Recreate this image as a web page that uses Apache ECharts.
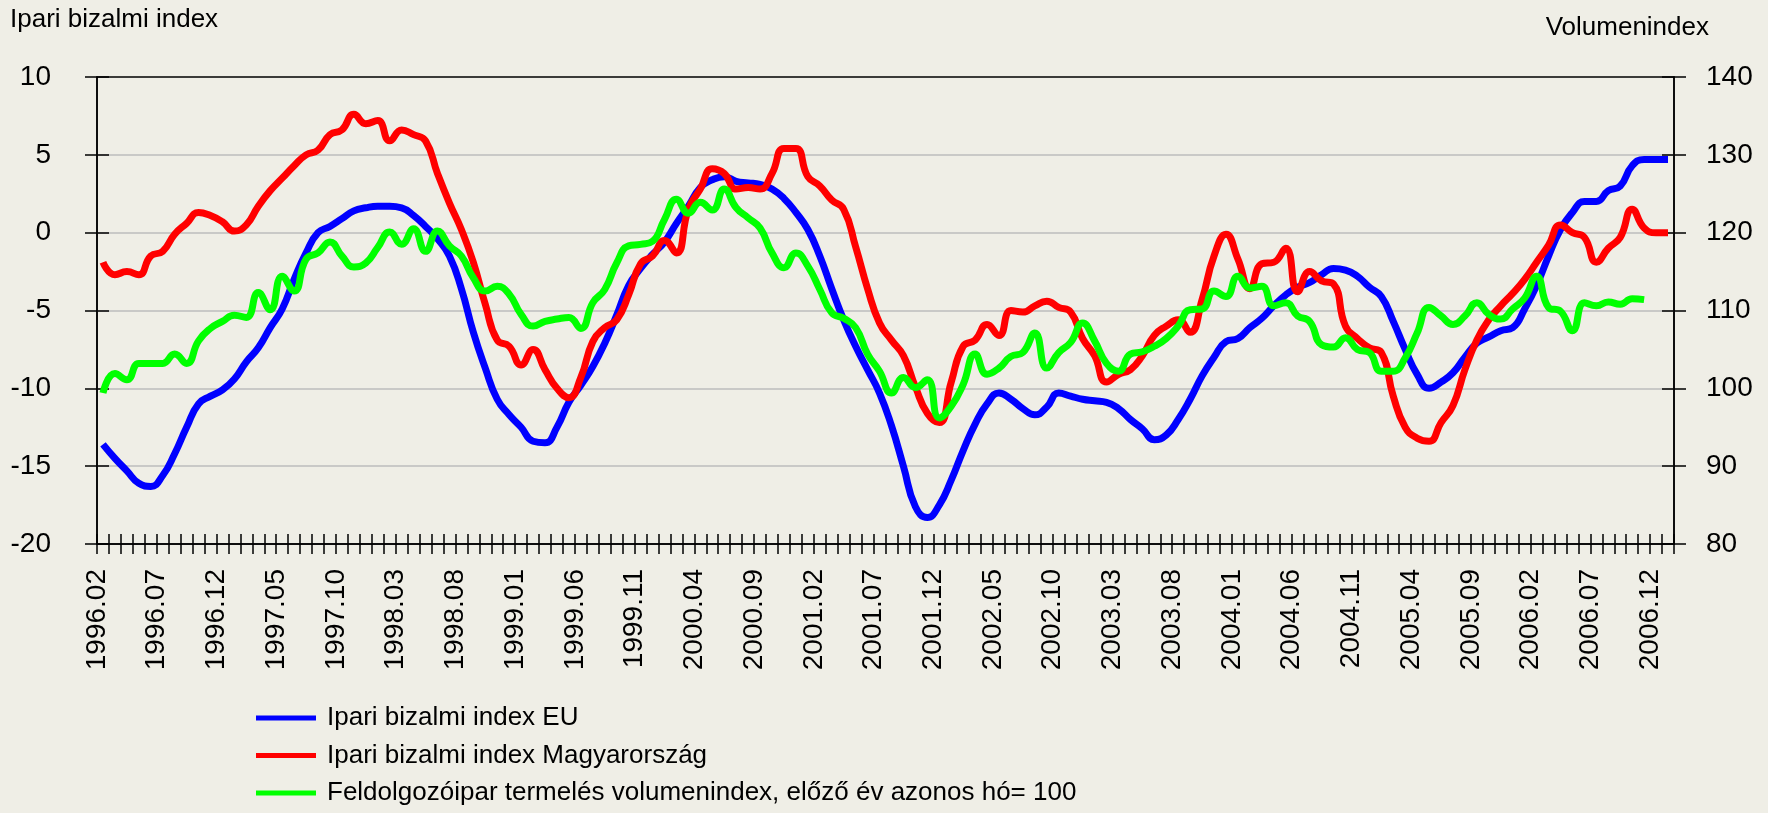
<!DOCTYPE html>
<html>
<head>
<meta charset="utf-8">
<script src="https://cdn.jsdelivr.net/npm/echarts@6/dist/echarts.min.js"></script>
<style>
  html, body { margin: 0; padding: 0; background: #efeee6; }
  #main { width: 1768px; height: 813px; }
</style>
</head>
<body>
<div id="main"></div>
<script>
// honapok: 1996.02-tol, 132 kategoria (a cimke minden 5. hatarra kerul)
const months = [];
for (let i = 0; i < 132; i++) {
  const m = i + 1;
  const y = 1996 + Math.floor(m / 12);
  const mm = (m % 12) + 1;
  months.push(y + '.' + (mm < 10 ? '0' + mm : '' + mm));
}

const leftTicks = [-20, -15, -10, -5, 0, 5, 10];
const rightTicks = [80, 90, 100, 110, 120, 130, 140];

const seriesNames = [
  'Ipari bizalmi index EU',
  'Ipari bizalmi index Magyarország',
  'Feldolgozóipar termelés volumenindex, előző év azonos hó= 100'
];

// Ipari bizalmi index EU
const euIndex = [
  -13.6, -14.5, -15.3, -16.1, -16.3, -15.6, -14.2, -12.5, -11.0, -10.5, -10.1, -9.4, -8.3, -7.4, -6.1, -4.9, -3.0, -1.3, 0.0, 0.4, 0.9, 1.4, 1.6, 1.7, 1.7, 1.6, 1.1,
  0.4, -0.4, -1.5, -3.6, -6.4, -8.7, -10.7, -11.7, -12.5, -13.4, -13.5, -12.5, -10.9, -9.8, -8.6, -7.1, -5.3, -3.4, -2.3, -1.4, -0.6, 0.6, 1.7, 2.9, 3.4, 3.6,
  3.3, 3.2, 3.1, 2.8, 2.2, 1.3, 0.2, -1.5, -3.6, -5.6, -7.3, -8.8, -10.3, -12.4, -15.0, -17.6, -18.3, -17.5, -15.9, -14.0, -12.3, -11.0, -10.3, -10.7, -11.3, -11.7, -11.2,
  -10.3, -10.5, -10.7, -10.8, -10.9, -11.3, -12.0, -12.6, -13.3, -13.0, -12.0, -10.7, -9.2, -8.0, -7.0, -6.8, -6.1, -5.5, -4.7, -4.0, -3.5, -3.2, -2.7, -2.3, -2.4, -2.8, -3.5,
  -4.1, -5.7, -7.5, -9.1, -10.0, -9.6, -9.0, -8.0, -7.1, -6.7, -6.3, -6.1, -4.9, -3.4, -1.5, 0.2, 1.3, 2.0, 2.0, 2.7, 3.0, 4.3, 4.7, 4.7, 4.7
];

// Ipari bizalmi index Magyarorszag
const huIndex = [
  -1.9, -2.7, -2.5, -2.7, -1.5, -1.2, -0.1, 0.6, 1.3, 1.1, 0.7, 0.1, 0.5, 1.7, 2.7, 3.5, 4.3, 5.0, 5.3, 6.3, 6.6, 7.6, 7.0, 7.2, 5.9, 6.6, 6.3,
  5.9, 3.8, 1.9, 0.2, -1.9, -4.6, -6.9, -7.3, -8.5, -7.5, -8.8, -10.0, -10.6, -9.3, -7.0, -6.1, -5.6, -4.0, -2.0, -1.5, -0.5, -1.3, 1.5, 2.8, 4.1, 3.8,
  2.8, 2.9, 2.8, 3.8, 5.4, 5.4, 3.6, 3.0, 2.1, 1.5, -0.9, -3.6, -5.8, -6.9, -7.9, -9.9, -11.6, -12.2, -9.6, -7.3, -6.9, -5.9, -6.6, -5.0, -5.1, -4.7, -4.4,
  -4.8, -5.1, -6.8, -7.9, -9.6, -9.1, -8.8, -7.9, -6.6, -6.0, -5.6, -6.4, -4.3, -1.5, -0.1, -1.7, -3.6, -2.0, -1.9, -1.0, -3.8, -2.5, -3.1, -3.3, -6.0, -6.8, -7.4,
  -7.7, -10.5, -12.5, -13.2, -13.4, -12.2, -11.1, -8.8, -6.9, -5.6, -4.7, -3.9, -3.0, -1.9, -0.8, 0.5, 0.0, -0.3, -1.9, -1.0, -0.3, 1.5, 0.3, 0.0, 0.0
];

// Feldolgozoipar termeles volumenindex (jobb tengely)
const volIndex = [
  99.4, 101.9, 101.1, 103.2, 103.2, 103.2, 104.4, 103.2, 106.1, 107.7, 108.6, 109.4, 109.1, 112.3, 110.1, 114.4, 112.5, 116.6, 117.4, 118.8, 117.0, 115.6, 116.1, 118.1, 120.1, 118.5, 120.5,
  117.6, 120.2, 118.3, 117.0, 114.2, 112.5, 113.1, 112.1, 109.5, 108.0, 108.6, 108.9, 109.1, 107.7, 111.0, 112.7, 116.1, 118.3, 118.5, 118.9, 121.7, 124.3, 122.5, 123.9, 122.9, 125.6,
  123.2, 121.9, 120.6, 117.4, 115.5, 117.4, 115.7, 112.7, 109.7, 109.0, 107.8, 104.4, 102.2, 99.4, 101.4, 100.1, 101.1, 96.2, 97.7, 100.5, 104.4, 101.8, 102.6, 104.1, 104.6, 107.1, 102.6,
  104.6, 105.9, 108.4, 106.1, 103.2, 102.2, 104.4, 104.7, 105.4, 106.4, 108.0, 110.1, 110.2, 112.5, 111.8, 114.4, 112.9, 113.1, 110.6, 111.0, 109.3, 108.6, 105.6, 105.3, 106.5, 105.0, 104.6,
  102.2, 102.2, 103.9, 107.1, 110.4, 109.3, 108.2, 109.3, 111.0, 109.5, 108.9, 110.2, 111.6, 114.4, 110.4, 109.9, 107.4, 111.0, 110.6, 111.1, 110.8, 111.5, 111.4, null, null
];

const FONT = 'Liberation Sans, Arial, sans-serif';
const chart = echarts.init(document.getElementById('main'), null, { renderer: 'canvas' });

const lineSeries = (name, data, color, yIdx) => ({
  name: name,
  type: 'line',
  yAxisIndex: yIdx,
  data: data,
  smooth: 0.5,
  showSymbol: false,
  connectNulls: false,
  lineStyle: { color: color, width: 7 },
  itemStyle: { color: color }
});

const yAxisBase = (pos, ticks, inside, showLabel, margin) => ({
  type: 'value',
  position: pos,
  min: ticks[0],
  max: ticks[ticks.length - 1],
  interval: ticks[1] - ticks[0],
  axisLine: { show: !inside, onZero: false, lineStyle: { color: '#000', width: 1.5 } },
  axisTick: { show: true, inside: inside, length: 12, lineStyle: { color: '#000', width: 1.5 } },
  axisLabel: { show: showLabel, margin: margin, color: '#000', fontSize: 28, fontFamily: FONT },
  splitLine: { show: false }
});

const yLeft = yAxisBase('left', leftTicks, false, true, 46);
yLeft.splitLine = { show: true, showMinLine: false, showMaxLine: false, lineStyle: { color: '#bdbdbd', width: 1.5 } };

const option = {
  backgroundColor: '#efeee6',
  animation: false,
  textStyle: { fontFamily: FONT },
  title: [
    { text: 'Ipari bizalmi index', left: 10, top: 7, padding: 0,
      textStyle: { fontSize: 26, fontWeight: 'normal', color: '#000', fontFamily: FONT } },
    { text: 'Volumenindex', right: 59, top: 15, padding: 0,
      textStyle: { fontSize: 26, fontWeight: 'normal', color: '#000', fontFamily: FONT } }
  ],
  legend: {
    orient: 'vertical',
    left: 256,
    top: 703,
    padding: 0,
    itemWidth: 60,
    itemHeight: 5,
    itemGap: 7.5,
    icon: 'rect',
    data: seriesNames,
    textStyle: { fontSize: 26, lineHeight: 30, color: '#000', fontFamily: FONT, padding: [0, 0, 0, 6] }
  },
  grid: {
    left: 97, right: 94, top: 77, bottom: 269,
    show: true, borderColor: '#000', borderWidth: 1.5,
    outerBoundsMode: 'none'
  },
  xAxis: [
    {
      type: 'category',
      data: months,
      boundaryGap: true,
      position: 'bottom',
      axisLine: { onZero: false, lineStyle: { color: '#000', width: 1.5 } },
      axisTick: { show: true, inside: true, interval: 0, length: 10, lineStyle: { color: '#000', width: 1.5 } },
      axisLabel: { show: false },
      splitLine: { show: false }
    },
    {
      type: 'value',
      position: 'bottom',
      min: 0,
      max: months.length,
      interval: 1,
      axisLine: { show: false, onZero: false },
      axisTick: { show: true, inside: false, length: 10, lineStyle: { color: '#000', width: 1.5 } },
      axisLabel: {
        rotate: 90,
        margin: 25,
        color: '#000',
        fontSize: 28,
        fontFamily: FONT,
        formatter: (v) => (v % 5 === 0 && v < months.length ? months[v] : '')
      },
      splitLine: { show: false }
    }
  ],
  yAxis: [
    yLeft,
    yAxisBase('right', rightTicks, false, true, 32),
    yAxisBase('left', leftTicks, true, false, 8),
    yAxisBase('right', rightTicks, true, false, 8)
  ],
  series: [
    lineSeries(seriesNames[0], euIndex, '#0000ff', 0),
    lineSeries(seriesNames[1], huIndex, '#ff0000', 0),
    lineSeries(seriesNames[2], volIndex, '#00ff00', 1)
  ]
};

chart.setOption(option);
</script>
</body>
</html>
